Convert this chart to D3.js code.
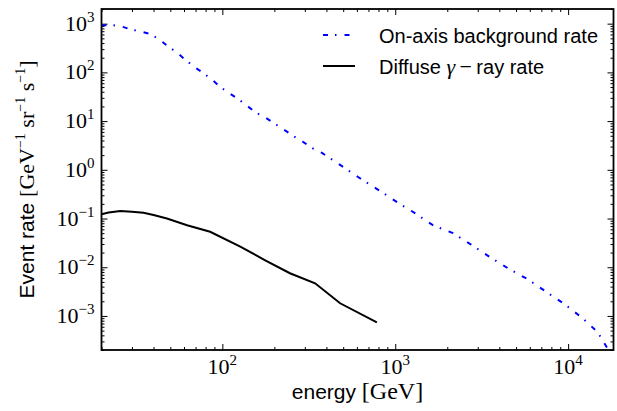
<!DOCTYPE html>
<html>
<head>
<meta charset="utf-8">
<script src="https://cdnjs.cloudflare.com/ajax/libs/d3/7.8.5/d3.min.js"></script>
<style>
  body { margin: 0; background: #fff; }
</style>
</head>
<body>
<script>
// values
const bgEnergy = [20, 25, 28.6, 33.2, 38.3, 43.3, 48, 54.8, 61, 68.7, 77.4, 87.3, 97, 109, 123, 139, 157, 179, 202, 228, 257, 293, 330, 377, 480, 610, 785, 1024, 1300, 1650, 2160, 2780, 3530, 4490, 5850, 7530, 9570, 12160, 14860, 17000]
const bgRate = [930, 920, 789, 695, 614, 469, 352, 253, 182, 130, 98, 70.5, 50.6, 38, 28.6, 20.6, 14.8, 11.6, 8.75, 6.59, 4.96, 3.73, 2.81, 2.22, 1.26, 0.711, 0.403, 0.217, 0.129, 0.073, 0.050, 0.0284, 0.0161, 0.0095, 0.00566, 0.00306, 0.00173, 0.000893, 0.00046, 0.000206]

const gammaEnergy = [20, 22, 25.7, 30, 35, 40, 47.8, 62.5, 85, 127, 177, 246, 344, 480, 783]
const gammaRate = [0.122, 0.133, 0.142, 0.137, 0.131, 0.118, 0.100, 0.073, 0.0534, 0.0265, 0.0139, 0.00753, 0.00469, 0.00182, 0.000738]

const xDomain = [20, 18300]
const yDomain = [2e-4, 2e3]

const width = 617
const height = 411
const margin = {top: 9, right: 3.5, bottom: 61, left: 101.5}
const chartWidth = width - margin.left - margin.right
const chartHeight = height - margin.top - margin.bottom

const sansFont = 'Liberation Sans, Arial, sans-serif'
const serifFont = 'Liberation Serif, Times New Roman, serif'

const svg = d3.select('body')
  .append('svg')
  .attr('width', width)
  .attr('height', height)

const g = svg.append('g').attr('transform', `translate(${margin.left}, ${margin.top})`)

const x = d3.scaleLog().domain(xDomain).range([0, chartWidth])
const y = d3.scaleLog().domain(yDomain).range([chartHeight, 0])

const isDecade = (d) => Math.abs(Math.log10(d) - Math.round(Math.log10(d))) < 1e-6
const xMajor = x.ticks().filter(isDecade)
const xMinor = x.ticks().filter((d) => !isDecade(d))
const yMajor = y.ticks().filter(isDecade)
const yMinor = y.ticks().filter((d) => !isDecade(d))

// ticks point inward on all four sides
const drawTicks = (axis, values, size, transform) => {
  g.append('g')
    .attr('transform', transform)
    .call(axis.tickValues(values).tickSize(-size).tickFormat(''))
    .call((s) => s.select('.domain').remove())
    .selectAll('line')
    .attr('stroke', '#000')
    .attr('stroke-width', 1)
}

drawTicks(d3.axisBottom(x), xMajor, 6, `translate(0, ${chartHeight})`)
drawTicks(d3.axisBottom(x), xMinor, 3, `translate(0, ${chartHeight})`)
drawTicks(d3.axisTop(x), xMajor, 6, 'translate(0, 0)')
drawTicks(d3.axisTop(x), xMinor, 3, 'translate(0, 0)')
drawTicks(d3.axisLeft(y), yMajor, 6, 'translate(0, 0)')
drawTicks(d3.axisLeft(y), yMinor, 3, 'translate(0, 0)')
drawTicks(d3.axisRight(y), yMajor, 6, `translate(${chartWidth}, 0)`)
drawTicks(d3.axisRight(y), yMinor, 3, `translate(${chartWidth}, 0)`)

// 10^n labels
const powerLabel = (sel, d) => {
  const p = Math.round(Math.log10(d))
  sel.append('tspan').text('10')
  sel.append('tspan')
    .attr('font-size', 15)
    .attr('dy', -9)
    .text(p < 0 ? '\u2212' + (-p) : String(p))
}

g.append('g').selectAll('text')
  .data(xMajor)
  .enter()
  .append('text')
  .attr('x', (d) => x(d))
  .attr('y', chartHeight + 24)
  .attr('text-anchor', 'middle')
  .attr('font-family', serifFont)
  .attr('font-size', 22)
  .each(function (d) { powerLabel(d3.select(this), d) })

g.append('g').selectAll('text')
  .data(yMajor)
  .enter()
  .append('text')
  .attr('x', -7)
  .attr('y', (d) => y(d) + 7)
  .attr('text-anchor', 'end')
  .attr('font-family', serifFont)
  .attr('font-size', 22)
  .each(function (d) { powerLabel(d3.select(this), d) })

const line = d3.line()
  .x((d) => x(d[0]))
  .y((d) => y(d[1]))

g.append('clipPath').attr('id', 'plot-clip')
  .append('rect')
  .attr('width', chartWidth)
  .attr('height', chartHeight)

const plot = g.append('g').attr('clip-path', 'url(#plot-clip)')

plot.append('path')
  .datum(d3.zip(bgEnergy, bgRate))
  .attr('fill', 'none')
  .attr('stroke', '#0000ff')
  .attr('stroke-width', 2)
  .attr('stroke-dasharray', '5,7,1.5,8')
  .attr('d', line)

plot.append('path')
  .datum(d3.zip(gammaEnergy, gammaRate))
  .attr('fill', 'none')
  .attr('stroke', '#000')
  .attr('stroke-width', 2)
  .attr('d', line)

// frame
g.append('rect')
  .attr('width', chartWidth)
  .attr('height', chartHeight)
  .attr('fill', 'none')
  .attr('stroke', '#000')
  .attr('stroke-width', 1.8)

// mixed sans / math text
const richText = (sel, parts) => {
  parts.forEach((p) => {
    const t = sel.append('tspan')
      .attr('font-family', p.serif ? serifFont : sansFont)
      .attr('font-size', p.size)
      .text(p.text)
    if (p.dy) t.attr('dy', p.dy)
    if (p.italic) t.attr('font-style', 'italic')
  })
}

const xLabel = svg.append('text')
  .attr('x', margin.left + chartWidth / 2)
  .attr('y', 399)
  .attr('text-anchor', 'middle')
richText(xLabel, [
  {text: 'energy ', size: 21},
  {text: '[GeV]', size: 24, serif: true}
])

const yLabel = svg.append('text')
  .attr('transform', `translate(34, ${margin.top + chartHeight / 2}) rotate(-90)`)
  .attr('text-anchor', 'middle')
richText(yLabel, [
  {text: 'Event rate ', size: 21},
  {text: '[GeV', size: 22, serif: true},
  {text: '\u22121', size: 14, serif: true, dy: -9},
  {text: ' sr', size: 22, serif: true, dy: 9},
  {text: '\u22121', size: 14, serif: true, dy: -9},
  {text: ' s', size: 22, serif: true, dy: 9},
  {text: '\u22121', size: 14, serif: true, dy: -9},
  {text: ']', size: 22, serif: true, dy: 9}
])

// legend
const legend = svg.append('g')
const legendRows = [
  {y: 35, stroke: '#0000ff', dash: '5,7,1.5,8',
    parts: [{text: 'On-axis background rate', size: 20}]},
  {y: 66, stroke: '#000', dash: null,
    parts: [
      {text: 'Diffuse ', size: 20},
      {text: '\u03b3', size: 22, serif: true, italic: true},
      {text: '\u2009\u2212\u2009', size: 22, serif: true},
      {text: 'ray rate', size: 20}
    ]}
]

legendRows.forEach((r) => {
  legend.append('line')
    .attr('x1', 323)
    .attr('x2', 355)
    .attr('y1', r.y)
    .attr('y2', r.y)
    .attr('stroke', r.stroke)
    .attr('stroke-width', 2)
    .attr('stroke-dasharray', r.dash)
  const t = legend.append('text')
    .attr('x', 379)
    .attr('y', r.y + 8)
  richText(t, r.parts)
})
</script>
</body>
</html>
